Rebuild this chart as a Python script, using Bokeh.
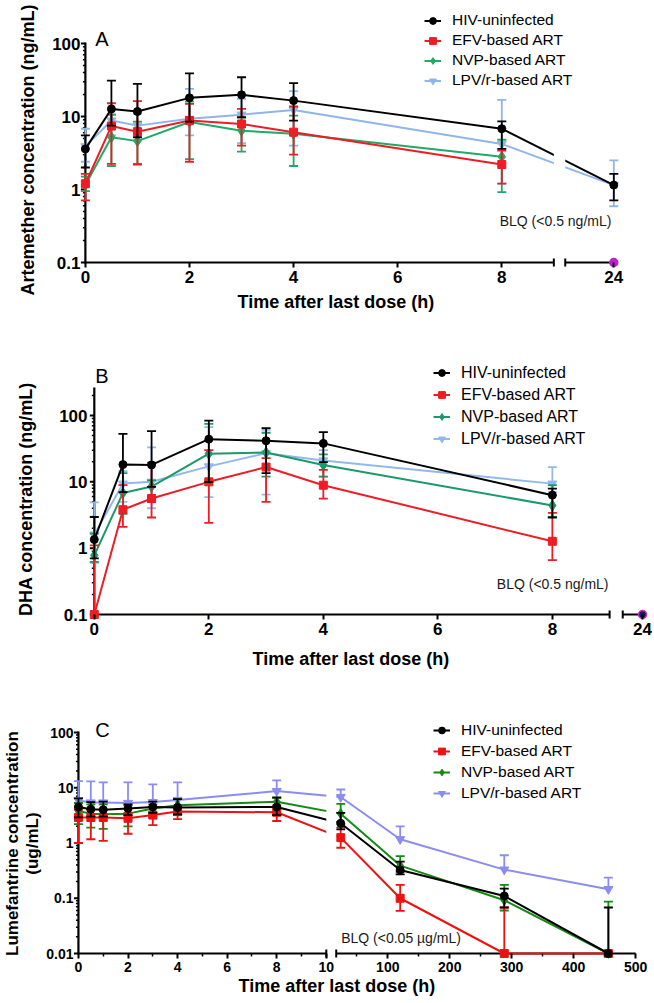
import numpy as np
from bokeh.plotting import figure
from bokeh.models import Range1d, FixedTicker, Legend, LegendItem, Label, Title
from bokeh.layouts import column
from bokeh.embed import file_html
from bokeh.resources import INLINE

NAN = float("nan")
FONT = "Liberation Sans"
NB = "\u00a0"

series_names = ["HIV-uninfected", "EFV-based ART", "NVP-based ART", "LPV/r-based ART"]
series_markers = ["circle", "square", "diamond", "inverted_triangle"]

# ---------------- Panel A : Artemether (ng/mL) ----------------
a_times = [0, 0.5, 1, 2, 3, 4, 8, 24]
a_hiv_mean = [3.6, 12.7, 11.7, 18.0, 19.8, 16.5, 6.8, 1.15]
a_hiv_lo = [2.0, 7.5, 5.2, 8.5, 9.8, 8.8, 3.6, 0.71]
a_hiv_hi = [5.5, 31.0, 28.0, 39.0, 34.5, 28.6, 8.6, 1.64]
a_efv_mean = [1.2, 7.4, 6.2, 8.8, 7.9, 6.1, 2.2, NAN]
a_efv_lo = [0.71, 2.25, 2.2, 2.4, 4.0, 3.0, 1.2, NAN]
a_efv_hi = [1.64, 15.2, 16.2, 14.9, 12.7, 13.7, 3.4, NAN]
a_nvp_mean = [1.15, 5.2, 4.6, 8.4, 6.4, 5.8, 2.8, NAN]
a_nvp_lo = [0.95, 2.1, 2.25, 2.6, 3.3, 2.1, 0.92, NAN]
a_nvp_hi = [1.5, 10.5, 8.5, 16.0, 9.6, 10.3, 4.8, NAN]
a_lpv_mean = [3.9, 8.8, 7.5, 9.3, 10.6, 12.3, 4.2, 1.15]
a_lpv_lo = [2.4, 5.5, 4.7, 5.5, 4.3, 4.0, 1.2, 0.59]
a_lpv_hi = [6.8, 10.8, 10.9, 23.9, 17.5, 22.2, 16.9, 2.5]
a_blq_times = [24]
a_blq_values = [0.1]
a_x_ticks = [0, 2, 4, 6, 8, 24]
a_x_labels = ["0", "2", "4", "6", "8", "24"]
a_x_minor = []
a_y_ticks = [0.1, 1, 10, 100]
a_y_labels = ["0.1", "1", "10", "100"]

# ---------------- Panel B : DHA (ng/mL) ----------------
b_times = [0, 0.5, 1, 2, 3, 4, 8]
b_hiv_mean = [1.35, 18.2, 18.0, 44.0, 41.6, 38.0, 6.3]
b_hiv_lo = [0.70, 7.0, 8.4, 9.9, 13.5, 19.8, 2.9]
b_hiv_hi = [2.95, 53.0, 58.0, 84.0, 64.5, 56.0, 7.9]
b_efv_mean = [0.1, 3.8, 5.6, 10.0, 16.7, 8.9, 1.27]
b_efv_lo = [NAN, 2.1, 2.9, 2.4, 5.0, 5.6, 0.66]
b_efv_hi = [1.1, 8.9, 19.5, 30.0, 22.8, 15.2, 3.4]
b_nvp_mean = [0.78, 6.8, 8.5, 26.6, 27.7, 18.0, 4.4]
b_nvp_lo = [0.62, 3.3, 5.0, 10.5, 12.0, 12.0, 2.95]
b_nvp_hi = [1.66, 13.5, 10.5, 75.0, 55.0, 26.0, 8.9]
b_lpv_mean = [1.6, 9.4, 10.0, 17.1, 27.0, 21.0, 9.4]
b_lpv_lo = [0.6, 5.0, 4.0, 5.9, 6.4, 12.0, 7.0]
b_lpv_hi = [4.9, 14.5, 33.0, 66.6, 61.0, 30.0, 16.7]
b_blq_times = [24]
b_blq_values = [0.1]
b_x_ticks = [0, 2, 4, 6, 8, 24]
b_x_labels = ["0", "2", "4", "6", "8", "24"]
b_x_minor = []
b_y_ticks = [0.1, 1, 10, 100]
b_y_labels = ["0.1", "1", "10", "100"]

# ---------------- Panel C : Lumefantrine (ug/mL) ----------------
c_times = [0, 0.5, 1, 2, 3, 4, 8, 24, 120, 288, 456]
c_hiv_mean = [4.5, 4.1, 4.0, 4.2, 4.5, 4.4, 4.5, 2.27, 0.325, 0.11, 0.01]
c_hiv_lo = [2.9, 3.0, 3.0, 3.2, 3.5, 3.3, 3.2, 1.77, 0.27, 0.068, NAN]
c_hiv_hi = [6.4, 5.5, 5.6, 5.0, 5.6, 6.2, 6.7, 3.5, 0.46, 0.149, 0.068]
c_efv_mean = [2.9, 2.9, 2.9, 2.8, 3.2, 3.7, 3.6, 1.25, 0.10, 0.01, 0.01]
c_efv_lo = [1.0, 1.17, 1.09, 1.47, 2.1, 2.7, 2.5, 0.82, 0.059, NAN, NAN]
c_efv_hi = [4.0, 4.0, 4.0, 3.5, 4.5, 4.5, 4.8, 1.9, 0.174, 0.068, NAN]
c_nvp_mean = [3.8, 3.4, 3.3, 3.4, 4.2, 4.8, 5.6, 3.4, 0.39, 0.092, 0.01]
c_nvp_lo = [2.2, 1.9, 1.8, 2.0, 3.0, 3.2, 3.2, 2.2, 0.30, 0.06, NAN]
c_nvp_hi = [5.3, 5.0, 5.0, 4.8, 5.0, 6.2, 6.5, 5.1, 0.58, 0.174, 0.087]
c_lpv_mean = [5.9, 5.4, 5.4, 5.3, 5.5, 6.0, 8.7, 6.8, 1.17, 0.33, 0.146]
c_lpv_lo = [NAN, NAN, NAN, NAN, NAN, NAN, NAN, NAN, NAN, NAN, NAN]
c_lpv_hi = [13.2, 13.0, 12.5, 12.5, 11.5, 12.5, 13.6, 9.3, 2.0, 0.6, 0.236]
c_blq_times = []
c_blq_values = []
c_x_ticks = [0, 2, 4, 6, 8, 10, 100, 200, 300, 400, 500]
c_x_labels = ["0", "2", "4", "6", "8", "10", "100", "200", "300", "400", "500"]
c_x_minor = [1, 3, 5, 7, 9, 50, 150, 250, 350, 450]
c_y_ticks = [0.01, 0.1, 1, 10, 100]
c_y_labels = ["0.01", "0.1", "1", "10", "100"]


def isnan(v):
    return v != v


W = 652
LEFT = 66      # common left border
RIGHT = 0


def build_panel(cfg, times, series, colors, x_ticks, x_labels, x_minor,
                y_ticks, y_labels, blq_t, blq_v):
    pad = 5
    pxh, ppd = cfg["pxh"], cfg["ppd"]
    brk, r_t0, r_v0, r_scale = cfg["brk"], cfg["r_t0"], cfg["r_v0"], cfg["r_scale"]

    def vx(t):
        return float(t) if t <= brk else r_v0 + (t - r_t0) * r_scale

    fw = W - LEFT - RIGHT
    fh = cfg["height"] - cfg["top"] - cfg["bottom"]
    xs = -(cfg["x0px"] - LEFT) / pxh
    xe = xs + fw / pxh
    ymin = y_ticks[0]
    ys = ymin * 10 ** (-pad / ppd)
    ye = ys * 10 ** (fh / ppd)
    ytop = cfg["ytop"]

    p = figure(width=W, height=cfg["height"], x_range=Range1d(xs, xe),
               y_range=Range1d(ys, ye), y_axis_type="log",
               output_backend="svg", toolbar_location=None,
               min_border_left=LEFT, min_border_right=RIGHT,
               min_border_top=cfg["top"], min_border_bottom=cfg["bottom"])
    p.outline_line_color = None
    p.xgrid.grid_line_color = None
    p.ygrid.grid_line_color = None
    p.background_fill_color = "white"
    p.border_fill_color = "white"

    # axis lines (broken x axis) and y ticks
    p.segment(x0=[0.0], y0=[ymin], x1=[0.0], y1=[ytop], line_color="black",
              line_width=2.2, line_cap="square")
    p.segment(x0=[0.0, r_v0], y0=[ymin, ymin], x1=[brk, vx(x_ticks[-1])],
              y1=[ymin, ymin], line_color="black", line_width=2.2)
    ymin_dec = int(round(np.log10(y_ticks[0])))
    ymax_dec = int(round(np.log10(y_ticks[-1]))) + 1
    yminor = [k * 10.0 ** e for e in range(ymin_dec, ymax_dec) for k in range(2, 10)
              if k * 10.0 ** e <= ytop * 1.0001]
    p.segment(x0=[-4.5 / pxh] * len(y_ticks), y0=y_ticks, x1=[0.0] * len(y_ticks),
              y1=y_ticks, line_color="black", line_width=2)
    p.segment(x0=[-2.5 / pxh] * len(yminor), y0=yminor, x1=[0.0] * len(yminor),
              y1=yminor, line_color="black", line_width=1.5)

    rends = {}
    for i in [3, 2, 1, 0]:
        m, lo, hi = series[i]
        c = colors[i]
        xv = [vx(t) for t in times]
        sx, sy0, sy1, cx, cy = [], [], [], [], []
        lx, ly = [], []
        for x, mv, l, h in zip(xv, m, lo, hi):
            if isnan(mv):
                continue
            lx.append(x)
            ly.append(mv)
            b = mv if isnan(l) else l
            t = mv if isnan(h) else h
            if t > b:
                sx.append(x); sy0.append(b); sy1.append(t)
            if not isnan(l):
                cx.append(x); cy.append(l)
            if not isnan(h):
                cx.append(x); cy.append(h)
        p.segment(x0=sx, y0=sy0, x1=sx, y1=sy1, line_color=c, line_width=1.8)
        p.scatter(x=cx, y=cy, marker="dash", size=9, line_color=c, line_width=1.8)
        lr = p.line(x=lx, y=ly, line_color=c, line_width=2)
        mr = p.scatter(x=lx, y=ly, marker=series_markers[i], size=cfg["msizes"][i],
                       fill_color=c, line_color=c)
        rends[i] = [lr, mr]

    if blq_t:
        p.scatter(x=[vx(t) for t in blq_t], y=blq_v, marker="circle", size=8,
                  fill_color=cfg["blq_fill"], line_color=cfg["blq_line"], line_width=1.5)

    # gap of the broken axis
    p.quad(left=[brk], right=[r_v0], bottom=[ys], top=[ye], fill_color="white",
           line_color=None)
    cy0 = ymin * 10 ** (-4 / ppd)
    cy1 = ymin * 10 ** (4 / ppd)
    p.segment(x0=[brk, r_v0], y0=[cy0, cy0], x1=[brk, r_v0], y1=[cy1, cy1],
              line_color="black", line_width=2)

    # axes
    xa = p.xaxis[0]
    ya = p.yaxis[0]
    xa.ticker = FixedTicker(ticks=[vx(t) for t in x_ticks],
                            minor_ticks=[vx(t) for t in x_minor])
    xa.major_label_overrides = {vx(t): s for t, s in zip(x_ticks, x_labels)}
    ya.ticker = FixedTicker(ticks=y_ticks, minor_ticks=[])
    ya.major_label_overrides = {t: s for t, s in zip(y_ticks, y_labels)}
    for ax in (xa, ya):
        ax.axis_line_color = None
        ax.major_label_text_font = FONT
        ax.major_label_text_font_style = "bold"
        ax.major_label_text_font_size = cfg["tick_size"]
        ax.major_label_text_color = "black"
        ax.axis_label_text_font = FONT
        ax.axis_label_text_font_style = "bold"
        ax.axis_label_text_color = "black"
    xa.major_tick_in = 5
    xa.major_tick_out = 0
    xa.minor_tick_in = 5
    xa.minor_tick_out = -2
    xa.major_tick_line_color = "black"
    xa.major_tick_line_width = 2
    xa.minor_tick_line_color = "black"
    xa.minor_tick_line_width = 1.5
    xa.major_label_standoff = 3
    ya.major_tick_in = 0
    ya.major_tick_out = 0
    ya.minor_tick_in = 0
    ya.minor_tick_out = 0
    ya.major_tick_line_color = None
    ya.minor_tick_line_color = None
    ya.major_label_standoff = cfg["ytick_standoff"]
    yt = cfg.get("ylabel_title")
    if yt is None:
        ya.axis_label = cfg["ylabel"]
        ya.axis_label_text_font_size = cfg["ylabel_size"]
        ya.axis_label_standoff = cfg["ylabel_standoff"]
        ya.axis_label_text_line_height = 1.05
    else:
        p.add_layout(Title(text=cfg["ylabel"], align="left", offset=yt[0],
                           vertical_align="top", standoff=yt[1],
                           text_font=FONT, text_font_size=cfg["ylabel_size"],
                           text_font_style="bold", text_color="black"), "left")

    p.add_layout(Title(text="Time after last dose (h)", align="left",
                       offset=cfg["xt_off"], vertical_align="top", standoff=cfg["xt_standoff"],
                       text_font=FONT, text_font_size="18px", text_font_style="bold",
                       text_color="black"), "below")

    # panel letter and BLQ note
    lt, lxp, lyp = cfg["letter"]
    p.add_layout(Label(x=vx(lxp), y=lyp, text=lt, text_font=FONT, text_font_size="20px",
                       text_align="left", text_baseline="alphabetic", text_color="black"))
    bt, bxp, byp = cfg["blq_label"]
    p.add_layout(Label(x=vx(bxp), y=byp, text=bt, text_font=FONT, text_font_size="14px",
                       text_align="left", text_baseline="middle", text_color="#1a1a1a"))

    items = [LegendItem(label=series_names[i], renderers=rends[i]) for i in range(4)]
    lg = Legend(items=items, location=cfg["legend_loc"], orientation="vertical",
                glyph_width=17, glyph_height=cfg["lg_h"], label_height=cfg["lg_h"],
                spacing=cfg["lg_sp"], padding=0, margin=0, label_standoff=11,
                label_text_font=FONT, label_text_font_size=cfg["lg_font"],
                label_text_color="black", border_line_color=None,
                background_fill_alpha=0)
    p.add_layout(lg)
    return p


cfg_a = dict(height=325, top=12, bottom=58, x0px=80,
             pxh=52.5, ppd=73.0, ytop=100,
             brk=9.0, r_t0=23.067, r_v0=9.219, r_scale=1.0,
             msizes=[8, 8, 11, 9], tick_size="17px",
             ylabel="Artemether concentration (ng/mL)", ylabel_size="18px",
             ylabel_title=(-28, 20),
             ytick_standoff=-9, ylabel_standoff=14, xt_off=166, xt_standoff=12,
             letter=("A", 0.19, 117), blq_label=("BLQ (<0.5 ng/mL)", 7.96, 0.365),
             legend_loc=(353, 178), lg_h=17, lg_sp=2, lg_font="15.5px",
             blq_fill="#c21fd3", blq_line="#c21fd3")
cfg_b = dict(height=361, top=33, bottom=67, x0px=89,
             pxh=57.75, ppd=66.33, ytop=255,
             brk=9.0, r_t0=23.654, r_v0=9.229, r_scale=1.0,
             msizes=[8, 8, 11, 9], tick_size="17px",
             ylabel="DHA concentration (ng/mL)" + NB * 4, ylabel_size="18px",
             ytick_standoff=-16, ylabel_standoff=20, xt_off=181, xt_standoff=22,
             letter=("B", 0.017, 400), blq_label=("BLQ (<0.5 ng/mL)", 7.03, 0.293),
             legend_loc=(362, 171), lg_h=19, lg_sp=3, lg_font="16px",
             blq_fill="#1c1a5c", blq_line="#c62fc9")
cfg_c = dict(height=315, top=28, bottom=43, x0px=73,
             pxh=25.0, ppd=55.25, ytop=100,
             brk=10.0, r_t0=16.8, r_v0=10.4, r_scale=0.025,
             msizes=[8, 8, 10, 9], tick_size="14px",
             ylabel="Lumefantrine concentration" + NB * 3 + "\n(ug/mL)" + NB * 3,
             ylabel_size="17px",
             ytick_standoff=-2, ylabel_standoff=1, xt_off=167, xt_standoff=2,
             letter=("C", 0.68, 113), blq_label=("BLQ (<0.05 \u00b5g/mL)", 24.8, 0.0187),
             legend_loc=(362, 156), lg_h=18, lg_sp=3, lg_font="15.5px",
             blq_fill="#000000", blq_line="#000000")

colors_a = ["#000000", "#ee1c24", "#1fab66", "#8fb6ea"]
colors_b = ["#000000", "#ee1c24", "#1a9a6a", "#93b9ec"]
colors_c = ["#000000", "#ee1111", "#138a13", "#8a8cf2"]

pa = build_panel(cfg_a, a_times,
                 [(a_hiv_mean, a_hiv_lo, a_hiv_hi), (a_efv_mean, a_efv_lo, a_efv_hi),
                  (a_nvp_mean, a_nvp_lo, a_nvp_hi), (a_lpv_mean, a_lpv_lo, a_lpv_hi)],
                 colors_a, a_x_ticks, a_x_labels, a_x_minor, a_y_ticks, a_y_labels,
                 a_blq_times, a_blq_values)
pb = build_panel(cfg_b, b_times,
                 [(b_hiv_mean, b_hiv_lo, b_hiv_hi), (b_efv_mean, b_efv_lo, b_efv_hi),
                  (b_nvp_mean, b_nvp_lo, b_nvp_hi), (b_lpv_mean, b_lpv_lo, b_lpv_hi)],
                 colors_b, b_x_ticks, b_x_labels, b_x_minor, b_y_ticks, b_y_labels,
                 b_blq_times, b_blq_values)
pc = build_panel(cfg_c, c_times,
                 [(c_hiv_mean, c_hiv_lo, c_hiv_hi), (c_efv_mean, c_efv_lo, c_efv_hi),
                  (c_nvp_mean, c_nvp_lo, c_nvp_hi), (c_lpv_mean, c_lpv_lo, c_lpv_hi)],
                 colors_c, c_x_ticks, c_x_labels, c_x_minor, c_y_ticks, c_y_labels,
                 c_blq_times, c_blq_values)

layout = column(pa, pb, pc)
open("out.html", "w").write(file_html(layout, INLINE, title="Pharmacokinetics"))
